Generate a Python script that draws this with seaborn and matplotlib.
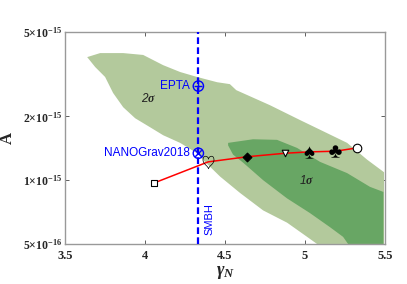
import numpy as np
import pandas as pd
import matplotlib
matplotlib.use("Agg")
import matplotlib.pyplot as plt
import seaborn as sns
from matplotlib.ticker import FixedLocator, FixedFormatter, NullLocator

# model curve points (gamma_N, A)
curve_gamma = [4.056, 4.394, 4.638, 4.875, 5.025, 5.190, 5.325]
curve_amp = [0.97e-15, 1.22e-15, 1.29e-15, 1.34e-15, 1.36e-15, 1.37e-15, 1.42e-15]
curve_markers = ['s', r'$\heartsuit$', 'D', 'v', r'$\spadesuit$', r'$\clubsuit$', 'o']
curve_filled = [False, False, True, False, True, True, False]
curve_sizes = [18, 90, 20, 22, 80, 80, 38]

# PTA constraints at the SMBH slope
smbh_gamma = 4.333
pta_names = ['EPTA', 'NANOGrav2018']
pta_amp = [2.78e-15, 1.34e-15]
pta_cross = ['+', 'x']

# 2 sigma region outline
sig2_gamma = [3.638, 3.719, 3.863, 3.988, 4.113, 4.219, 4.325, 4.45, 4.53, 4.57, 4.78,
              4.97, 5.094, 5.263, 5.388, 5.494, 5.494, 5.075, 5.013, 4.888, 4.738, 4.594,
              4.469, 4.375, 4.325, 4.219, 4.113, 4.03, 3.938, 3.863, 3.80, 3.75, 3.688]
sig2_amp = [3.81e-15, 3.98e-15, 3.98e-15, 3.90e-15, 3.49e-15, 3.24e-15, 3.07e-15,
            2.90e-15, 2.84e-15, 2.66e-15, 2.26e-15, 1.92e-15, 1.73e-15, 1.50e-15,
            1.25e-15, 1.09e-15, 5.0e-16, 5.0e-16, 5.4e-16, 6.3e-16, 7.2e-16, 8.7e-16,
            1.04e-15, 1.22e-15, 1.34e-15, 1.50e-15, 1.63e-15, 1.78e-15, 1.96e-15,
            2.21e-15, 2.58e-15, 3.07e-15, 3.42e-15]

# 1 sigma region outline
sig1_gamma = [4.519, 4.675, 4.825, 4.95, 5.094, 5.263, 5.406, 5.49, 5.49, 5.269, 5.238,
              5.156, 5.03, 4.888, 4.738, 4.613, 4.55, 4.519]
sig1_amp = [1.50e-15, 1.56e-15, 1.55e-15, 1.42e-15, 1.22e-15, 1.08e-15, 9.3e-16, 8.8e-16,
            5.0e-16, 5.0e-16, 5.4e-16, 6.0e-16, 7.0e-16, 8.2e-16, 1.00e-15, 1.21e-15,
            1.32e-15, 1.46e-15]

sns.set_style("ticks")
plt.rcParams['mathtext.fontset'] = 'custom'
plt.rcParams['mathtext.rm'] = 'Liberation Serif:bold'
plt.rcParams['mathtext.it'] = 'Liberation Serif:italic:bold'
plt.rcParams['mathtext.bf'] = 'Liberation Serif:bold'

fig = plt.figure(figsize=(4.07, 2.84), dpi=100)
ax = fig.add_axes([0.16, 0.141, 0.786, 0.746])

ax.fill(sig2_gamma, sig2_amp, color='#b3c99c', lw=0, zorder=1)
ax.fill(sig1_gamma, sig1_amp, color='#68a664', lw=0, zorder=2)

df = pd.DataFrame({'gamma': curve_gamma, 'A': curve_amp})
sns.lineplot(data=df, x='gamma', y='A', color='red', lw=1.1, sort=False, ax=ax, zorder=3)
for g, a, m, f, s in zip(curve_gamma, curve_amp, curve_markers, curve_filled, curve_sizes):
    if m.startswith('$'):
        ax.scatter([g], [a], marker=m, s=s, color='black', zorder=5, linewidths=0)
    else:
        ax.scatter([g], [a], marker=m, s=s, facecolor='black' if f else 'white',
                   edgecolor='black', linewidths=0.8, zorder=5)

ax.axvline(smbh_gamma, color='blue', ls=(0, (3, 1.5)), lw=1.6, zorder=4)
for name, a, c in zip(pta_names, pta_amp, pta_cross):
    ax.scatter([smbh_gamma], [a], marker='o', s=55, facecolor='none', edgecolor='blue',
               linewidths=1.0, zorder=6)
    ax.scatter([smbh_gamma], [a], marker=c, s=35 if c == '+' else 22, color='blue',
               linewidths=1.0, zorder=6)
    ax.text(smbh_gamma - 0.05, a, name, color='blue', fontsize=8.5, ha='right', va='center',
            family='Liberation Sans')

ax.text(smbh_gamma + 0.07, 6.56e-16, 'SMBH', color='blue', fontsize=8, rotation=90,
        ha='center', va='center', family='Liberation Sans')
ax.text(4.02, 2.43e-15, r'2$\sigma$', fontsize=8.5, ha='center', va='center',
        family='Liberation Sans', style='italic', color='#222222')
ax.text(5.01, 1.0e-15, r'1$\sigma$', fontsize=8.5, ha='center', va='center',
        family='Liberation Sans', style='italic', color='#222222')

ax.set_yscale('log')
ax.set_xlim(3.5, 5.5)
ax.set_ylim(5e-16, 5e-15)
ax.set_xticks([3.5, 4, 4.5, 5, 5.5])
ax.set_xticklabels(['3.5', '4', '4.5', '5', '5.5'])
ax.yaxis.set_major_locator(FixedLocator([5e-16, 1e-15, 2e-15, 5e-15]))
ax.yaxis.set_major_formatter(FixedFormatter([r'$5{\times}10^{-16}$', r'$1{\times}10^{-15}$',
                                             r'$2{\times}10^{-15}$', r'$5{\times}10^{-15}$']))
ax.yaxis.set_minor_locator(NullLocator())
ax.tick_params(direction='in', top=True, right=True, length=3, width=0.6,
               color='#444444')
ax.tick_params(axis='y', labelsize=8.5, pad=2)
ax.tick_params(axis='x', labelsize=9, pad=4)
for lab in ax.get_xticklabels():
    lab.set_family('Liberation Serif')
    lab.set_fontweight('bold')
for sp in ax.spines.values():
    sp.set_color('#999999')
    sp.set_linewidth(1.0)

ax.set_xlabel(r'$\gamma_N$', fontsize=13, labelpad=1)
ax.set_ylabel('A', fontsize=12, family='Liberation Serif', fontweight='bold')
ax.yaxis.set_label_coords(-0.155, 0.5)

fig.savefig('out.png', dpi=100)
